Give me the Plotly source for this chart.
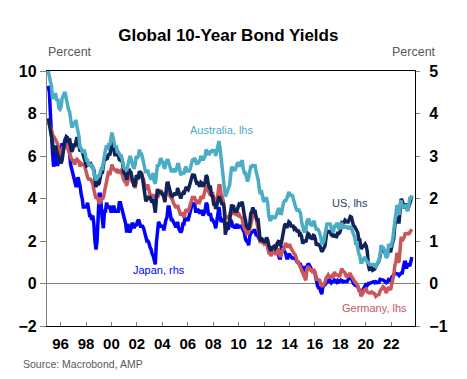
import pandas as pd
import plotly.graph_objects as go

# Monthly 10-year government bond yields (%), Jan 1995 - Aug 2023
us = [
    7.78, 7.47, 7.20, 7.06, 6.63, 6.17, 6.28, 6.49, 6.20, 6.04, 5.93, 5.71,
    5.65, 5.81, 6.27, 6.51, 6.74, 6.91, 6.87, 6.64, 6.83, 6.53, 6.20, 6.30,
    6.58, 6.42, 6.69, 6.89, 6.71, 6.49, 6.22, 6.30, 6.21, 6.03, 5.88, 5.81,
    5.54, 5.57, 5.65, 5.64, 5.65, 5.50, 5.46, 5.34, 4.81, 4.53, 4.83, 4.65,
    4.72, 5.00, 5.23, 5.18, 5.54, 5.90, 5.79, 5.94, 5.92, 6.11, 6.03, 6.28,
    6.66, 6.52, 6.26, 5.99, 6.44, 6.10, 6.05, 5.83, 5.80, 5.74, 5.72, 5.24,
    5.16, 5.10, 4.89, 5.14, 5.39, 5.28, 5.24, 4.97, 4.73, 4.57, 4.65, 5.09,
    5.04, 4.91, 5.28, 5.21, 5.16, 4.93, 4.65, 4.26, 3.87, 3.94, 4.05, 4.03,
    4.05, 3.90, 3.81, 3.96, 3.57, 3.33, 3.98, 4.45, 4.27, 4.29, 4.30, 4.27,
    4.15, 4.08, 3.83, 4.35, 4.72, 4.73, 4.50, 4.28, 4.13, 4.10, 4.19, 4.23,
    4.22, 4.17, 4.50, 4.34, 4.14, 4.00, 4.18, 4.26, 4.20, 4.46, 4.54, 4.47,
    4.42, 4.57, 4.72, 4.99, 5.11, 5.11, 5.09, 4.88, 4.72, 4.73, 4.60, 4.56,
    4.76, 4.72, 4.56, 4.69, 4.75, 5.10, 5.00, 4.67, 4.52, 4.53, 4.15, 4.10,
    3.74, 3.74, 3.51, 3.68, 3.88, 4.10, 4.01, 3.89, 3.69, 3.81, 3.53, 2.30,
    2.52, 2.87, 2.82, 2.93, 3.29, 3.72, 3.56, 3.59, 3.40, 3.39, 3.40, 3.59,
    3.73, 3.69, 3.73, 3.85, 3.42, 3.20, 3.01, 2.70, 2.65, 2.54, 2.76, 3.29,
    3.39, 3.58, 3.41, 3.46, 3.17, 3.00, 3.00, 2.30, 1.98, 2.15, 2.01, 1.98,
    1.97, 1.97, 2.17, 2.05, 1.80, 1.62, 1.53, 1.68, 1.72, 1.75, 1.65, 1.72,
    1.91, 1.98, 1.96, 1.76, 1.93, 2.30, 2.58, 2.74, 2.81, 2.62, 2.72, 2.90,
    2.86, 2.71, 2.72, 2.71, 2.56, 2.60, 2.54, 2.42, 2.53, 2.30, 2.33, 2.21,
    1.88, 1.98, 2.04, 1.94, 2.20, 2.36, 2.32, 2.17, 2.17, 2.07, 2.26, 2.24,
    2.09, 1.78, 1.89, 1.81, 1.81, 1.64, 1.50, 1.56, 1.63, 1.76, 2.14, 2.49,
    2.43, 2.42, 2.48, 2.30, 2.30, 2.19, 2.32, 2.21, 2.20, 2.36, 2.35, 2.40,
    2.58, 2.86, 2.84, 2.87, 2.98, 2.91, 2.89, 2.89, 3.00, 3.15, 3.12, 2.83,
    2.71, 2.68, 2.57, 2.53, 2.40, 2.07, 2.06, 1.63, 1.70, 1.71, 1.81, 1.86,
    1.76, 1.50, 0.87, 0.66, 0.67, 0.73, 0.62, 0.65, 0.68, 0.79, 0.87, 0.93,
    1.08, 1.26, 1.61, 1.64, 1.62, 1.52, 1.32, 1.28, 1.37, 1.58, 1.56, 1.47,
    1.76, 1.93, 2.13, 2.75, 2.90, 3.14, 2.90, 2.90, 3.52, 3.98, 3.89, 3.62,
    3.53, 3.75, 3.66, 3.46, 3.57, 3.75, 3.90, 4.10,
]

germany = [
    7.60, 7.50, 7.35, 7.25, 7.00, 6.95, 6.85, 6.75, 6.65, 6.55, 6.30, 6.05,
    6.00, 6.25, 6.45, 6.40, 6.50, 6.60, 6.40, 6.25, 6.20, 6.05, 5.85, 5.80,
    5.70, 5.60, 5.80, 5.85, 5.80, 5.70, 5.50, 5.65, 5.60, 5.60, 5.60, 5.40,
    5.10, 5.00, 4.90, 4.90, 4.90, 4.80, 4.70, 4.40, 4.10, 4.00, 4.05, 3.95,
    3.75, 3.85, 4.05, 3.95, 4.05, 4.35, 4.65, 4.90, 5.05, 5.30, 5.10, 5.30,
    5.60, 5.45, 5.35, 5.30, 5.40, 5.20, 5.30, 5.25, 5.30, 5.20, 5.10, 4.90,
    4.80, 4.80, 4.60, 4.80, 5.05, 5.00, 5.00, 4.80, 4.80, 4.60, 4.50, 4.80,
    5.00, 4.95, 5.25, 5.20, 5.20, 5.00, 4.90, 4.60, 4.40, 4.60, 4.60, 4.40,
    4.20, 3.95, 4.10, 4.20, 3.80, 3.65, 4.10, 4.20, 4.15, 4.25, 4.40, 4.30,
    4.20, 4.10, 3.95, 4.20, 4.30, 4.30, 4.25, 4.10, 4.05, 3.95, 3.80, 3.70,
    3.60, 3.60, 3.70, 3.50, 3.35, 3.20, 3.30, 3.30, 3.10, 3.30, 3.50, 3.40,
    3.40, 3.55, 3.70, 4.00, 4.05, 4.05, 4.05, 3.90, 3.80, 3.85, 3.75, 3.85,
    4.10, 4.05, 4.00, 4.20, 4.35, 4.60, 4.50, 4.30, 4.25, 4.30, 4.10, 4.30,
    4.00, 3.95, 3.80, 4.00, 4.20, 4.60, 4.60, 4.20, 4.10, 3.90, 3.60, 3.10,
    3.10, 3.20, 3.05, 3.15, 3.40, 3.50, 3.30, 3.30, 3.30, 3.25, 3.25, 3.20,
    3.25, 3.15, 3.10, 3.05, 2.75, 2.60, 2.65, 2.35, 2.35, 2.40, 2.55, 2.90,
    3.00, 3.20, 3.20, 3.35, 3.10, 2.95, 2.75, 2.30, 1.90, 2.05, 1.95, 2.00,
    1.85, 1.90, 1.90, 1.70, 1.45, 1.45, 1.30, 1.40, 1.55, 1.50, 1.40, 1.35,
    1.60, 1.60, 1.40, 1.25, 1.40, 1.60, 1.60, 1.80, 1.90, 1.80, 1.70, 1.80,
    1.80, 1.65, 1.60, 1.50, 1.40, 1.35, 1.20, 1.00, 1.00, 0.88, 0.78, 0.60,
    0.45, 0.35, 0.25, 0.15, 0.60, 0.80, 0.75, 0.65, 0.65, 0.55, 0.55, 0.60,
    0.50, 0.20, 0.20, 0.15, 0.15, 0.00, -0.10, -0.10, -0.05, 0.05, 0.25, 0.30,
    0.40, 0.30, 0.40, 0.25, 0.35, 0.30, 0.55, 0.40, 0.40, 0.40, 0.35, 0.35,
    0.55, 0.70, 0.55, 0.55, 0.50, 0.35, 0.35, 0.35, 0.45, 0.45, 0.35, 0.25,
    0.20, 0.10, 0.05, 0.00, -0.10, -0.30, -0.30, -0.60, -0.55, -0.45, -0.30, -0.25,
    -0.25, -0.40, -0.45, -0.45, -0.45, -0.40, -0.45, -0.45, -0.50, -0.60, -0.55, -0.55,
    -0.52, -0.35, -0.30, -0.25, -0.15, -0.20, -0.35, -0.45, -0.30, -0.15, -0.25, -0.30,
    -0.05, 0.15, 0.40, 0.85, 1.00, 1.45, 1.00, 1.05, 1.80, 2.20, 2.00, 2.10,
    2.20, 2.40, 2.30, 2.40, 2.30, 2.40, 2.45, 2.55,
]

australia = [
    10.00, 9.60, 9.50, 9.30, 8.70, 8.75, 8.90, 8.90, 8.60, 8.70, 8.25, 8.20,
    8.30, 8.70, 8.80, 8.95, 8.95, 8.70, 8.35, 8.20, 8.10, 7.65, 7.40, 7.40,
    7.60, 7.50, 7.70, 7.40, 7.20, 6.90, 6.40, 6.35, 6.20, 6.20, 6.30, 6.05,
    5.80, 5.80, 5.60, 5.60, 5.60, 5.50, 5.50, 5.20, 4.95, 4.85, 5.10, 5.00,
    5.05, 5.30, 5.40, 5.40, 5.70, 6.20, 6.30, 6.50, 6.30, 6.60, 6.50, 6.80,
    7.10, 6.90, 6.60, 6.40, 6.50, 6.20, 6.20, 6.10, 6.00, 6.00, 5.70, 5.50,
    5.40, 5.40, 5.30, 5.60, 5.90, 6.00, 5.90, 5.60, 5.50, 5.40, 5.60, 6.00,
    5.90, 6.00, 6.30, 6.10, 6.10, 5.90, 5.70, 5.50, 5.20, 5.30, 5.30, 5.10,
    4.95, 4.90, 5.00, 5.20, 4.80, 4.70, 5.10, 5.60, 5.50, 5.80, 5.90, 5.80,
    5.70, 5.50, 5.40, 5.70, 5.80, 5.80, 5.60, 5.40, 5.30, 5.30, 5.40, 5.30,
    5.30, 5.40, 5.60, 5.60, 5.40, 5.10, 5.20, 5.20, 5.20, 5.40, 5.50, 5.30,
    5.30, 5.30, 5.40, 5.70, 5.80, 5.80, 5.90, 5.80, 5.60, 5.70, 5.70, 5.80,
    6.00, 5.90, 5.80, 5.90, 6.00, 6.30, 6.20, 6.10, 6.10, 6.20, 6.20, 6.30,
    6.20, 6.30, 6.00, 6.20, 6.50, 6.70, 6.40, 5.90, 5.70, 5.30, 4.80, 4.10,
    4.20, 4.40, 4.50, 4.60, 5.00, 5.50, 5.40, 5.40, 5.30, 5.50, 5.60, 5.70,
    5.60, 5.50, 5.70, 5.80, 5.40, 5.20, 5.20, 4.90, 4.80, 5.00, 5.30, 5.50,
    5.50, 5.60, 5.50, 5.60, 5.30, 5.10, 4.90, 4.50, 4.20, 4.40, 4.10, 3.90,
    3.90, 4.00, 4.00, 3.80, 3.20, 3.00, 3.00, 3.20, 3.10, 3.10, 3.10, 3.20,
    3.40, 3.50, 3.50, 3.30, 3.30, 3.70, 3.80, 3.90, 3.90, 4.00, 4.20, 4.30,
    4.20, 4.10, 4.20, 4.00, 3.80, 3.60, 3.50, 3.40, 3.50, 3.40, 3.30, 2.90,
    2.60, 2.50, 2.40, 2.50, 2.90, 3.00, 3.00, 2.80, 2.80, 2.70, 2.90, 2.90,
    2.70, 2.50, 2.60, 2.50, 2.40, 2.20, 1.90, 1.90, 2.00, 2.30, 2.60, 2.80,
    2.80, 2.80, 2.80, 2.60, 2.50, 2.40, 2.70, 2.70, 2.80, 2.80, 2.60, 2.60,
    2.80, 2.80, 2.60, 2.70, 2.70, 2.60, 2.70, 2.60, 2.60, 2.70, 2.60, 2.40,
    2.30, 2.20, 1.90, 1.90, 1.60, 1.40, 1.30, 1.00, 1.00, 1.10, 1.20, 1.20,
    1.10, 1.00, 1.00, 0.90, 0.90, 0.90, 0.90, 0.90, 0.85, 0.80, 0.90, 1.00,
    1.10, 1.30, 1.80, 1.70, 1.70, 1.60, 1.30, 1.20, 1.30, 1.80, 1.80, 1.70,
    1.90, 2.10, 2.50, 3.00, 3.30, 3.70, 3.30, 3.30, 3.80, 3.90, 3.60, 3.60,
    3.60, 3.70, 3.50, 3.40, 3.60, 4.00, 4.00, 4.15,
]

japan = [
    4.65, 4.50, 4.00, 3.40, 3.10, 2.75, 2.90, 3.20, 2.80, 2.80, 2.90, 3.00,
    3.10, 3.30, 3.20, 3.30, 3.40, 3.40, 3.40, 3.20, 3.10, 2.80, 2.65, 2.60,
    2.50, 2.40, 2.30, 2.30, 2.50, 2.40, 2.30, 2.10, 2.00, 1.80, 1.80, 1.80,
    1.80, 1.90, 1.70, 1.60, 1.60, 1.50, 1.60, 1.40, 1.00, 0.80, 1.00, 1.60,
    2.10, 2.10, 1.70, 1.50, 1.30, 1.70, 1.70, 1.90, 1.80, 1.80, 1.80, 1.70,
    1.70, 1.80, 1.80, 1.70, 1.70, 1.70, 1.70, 1.90, 1.90, 1.80, 1.70, 1.60,
    1.50, 1.40, 1.20, 1.40, 1.30, 1.20, 1.30, 1.40, 1.40, 1.30, 1.40, 1.35,
    1.45, 1.50, 1.45, 1.35, 1.35, 1.35, 1.30, 1.20, 1.15, 1.00, 1.00, 0.95,
    0.85, 0.80, 0.70, 0.65, 0.55, 0.45, 0.95, 1.20, 1.45, 1.40, 1.35, 1.35,
    1.35, 1.25, 1.40, 1.50, 1.55, 1.80, 1.80, 1.60, 1.50, 1.50, 1.45, 1.40,
    1.35, 1.35, 1.45, 1.30, 1.25, 1.20, 1.25, 1.40, 1.40, 1.55, 1.50, 1.50,
    1.50, 1.60, 1.70, 1.85, 1.90, 1.85, 1.90, 1.70, 1.70, 1.75, 1.70, 1.65,
    1.70, 1.70, 1.60, 1.65, 1.70, 1.90, 1.85, 1.65, 1.60, 1.65, 1.50, 1.50,
    1.45, 1.40, 1.30, 1.45, 1.70, 1.80, 1.60, 1.45, 1.50, 1.50, 1.45, 1.30,
    1.25, 1.30, 1.30, 1.40, 1.50, 1.45, 1.35, 1.35, 1.30, 1.35, 1.40, 1.30,
    1.35, 1.35, 1.35, 1.30, 1.25, 1.20, 1.05, 1.00, 1.00, 0.90, 1.10, 1.20,
    1.20, 1.25, 1.25, 1.25, 1.15, 1.15, 1.10, 1.05, 1.00, 1.00, 1.00, 1.00,
    0.95, 0.95, 1.00, 0.95, 0.85, 0.85, 0.75, 0.80, 0.80, 0.80, 0.75, 0.75,
    0.75, 0.70, 0.60, 0.60, 0.85, 0.85, 0.80, 0.75, 0.70, 0.60, 0.60, 0.70,
    0.65, 0.60, 0.60, 0.60, 0.60, 0.58, 0.55, 0.50, 0.50, 0.45, 0.45, 0.35,
    0.25, 0.35, 0.40, 0.35, 0.40, 0.45, 0.45, 0.40, 0.35, 0.30, 0.30, 0.28,
    0.20, 0.00, -0.05, -0.10, -0.10, -0.18, -0.25, -0.08, -0.05, -0.05, 0.00, 0.05,
    0.05, 0.10, 0.07, 0.02, 0.05, 0.05, 0.08, 0.05, 0.03, 0.07, 0.04, 0.05,
    0.08, 0.07, 0.04, 0.05, 0.05, 0.03, 0.05, 0.10, 0.12, 0.15, 0.12, 0.05,
    0.00, -0.03, -0.05, -0.05, -0.07, -0.13, -0.15, -0.25, -0.20, -0.15, -0.08, -0.02,
    0.00, -0.04, 0.00, 0.00, 0.00, 0.02, 0.03, 0.04, 0.02, 0.04, 0.02, 0.02,
    0.03, 0.10, 0.10, 0.08, 0.08, 0.06, 0.03, 0.02, 0.04, 0.09, 0.07, 0.06,
    0.15, 0.20, 0.20, 0.24, 0.24, 0.24, 0.22, 0.19, 0.24, 0.25, 0.25, 0.35,
    0.50, 0.50, 0.35, 0.47, 0.43, 0.41, 0.50, 0.62,
]

tick_years = list(range(1996, 2023, 2))
tick_labels = ["96", "98", "00", "02", "04", "06", "08", "10", "12", "14", "16", "18", "20", "22"]

dates = pd.date_range("1995-01-01", periods=len(us), freq="MS") + pd.Timedelta(days=14)
tick_vals = [f"{y}-01-01" for y in tick_years]

FONT = "Liberation Sans, Arial, Helvetica, sans-serif"
C_AUS = "#4BACC6"
C_US = "#10225A"
C_GER = "#C9575A"
C_JPN = "#0000FF"

# plot-area geometry in pixels (used to place the out-of-plot captions)
W, H = 467, 379
L, R, T, B = 47, 52, 71, 53
PW, PH = W - L - R, H - T - B


def px(x):
    return (x - L) / PW


def py(y):
    return (H - B - y) / PH


fig = go.Figure()
# Japan on the primary axis (right side) so it is drawn underneath
fig.add_trace(go.Scatter(x=dates, y=japan, mode="lines", name="Japan, rhs",
                         line=dict(color=C_JPN, width=3.5), yaxis="y"))
fig.add_trace(go.Scatter(x=dates, y=germany, mode="lines", name="Germany, lhs",
                         line=dict(color=C_GER, width=3.5), yaxis="y2"))
fig.add_trace(go.Scatter(x=dates, y=us, mode="lines", name="US, lhs",
                         line=dict(color=C_US, width=3.5), yaxis="y2"))
fig.add_trace(go.Scatter(x=dates, y=australia, mode="lines", name="Australia, lhs",
                         line=dict(color=C_AUS, width=3.5), yaxis="y2"))

fig.add_shape(type="line", xref="paper", x0=0, x1=1, yref="y2", y0=0, y1=0,
              line=dict(color="#808080", width=1), layer="below")

fig.update_layout(
    width=W, height=H,
    margin=dict(l=L, r=R, t=T, b=B, autoexpand=False),
    paper_bgcolor="white", plot_bgcolor="white",
    showlegend=False,
    font=dict(family=FONT, color="black"),
    title=dict(text="<b>Global 10-Year Bond Yields</b>", x=0.489, xref="container",
               xanchor="center", y=1 - 35 / H, yref="container", yanchor="middle",
               font=dict(size=17, color="black", family=FONT)),
    xaxis=dict(type="date", range=["1994-12-08", "2023-11-15"], automargin=False,
               tickmode="array", tickvals=tick_vals, ticktext=tick_labels,
               ticks="inside", ticklen=4, tickcolor="#808080", tickwidth=1,
               ticklabelstandoff=4,
               showline=True, linecolor="black", linewidth=1.3, mirror=True,
               showgrid=False, zeroline=False,
               tickfont=dict(size=15, family=FONT, color="black", weight="bold")),
    yaxis=dict(range=[-1, 5], dtick=1, side="right", showgrid=False, zeroline=False,
               automargin=False,
               showline=True, linecolor="black", linewidth=1.3,
               ticks="outside", ticklen=4, tickcolor="#808080",
               ticklabelstandoff=6,
               tickfont=dict(size=16, family=FONT, color="black", weight="bold")),
    yaxis2=dict(range=[-2, 10], dtick=2, side="left", overlaying="y",
                showgrid=False, zeroline=False, automargin=False,
                showline=True, linecolor="#808080", linewidth=1.3,
                ticks="outside", ticklen=6, tickcolor="#808080",
                tickfont=dict(size=16, family=FONT, color="black", weight="bold")),
)

ann_font = dict(family=FONT, size=11)
fig.add_annotation(x="2008-09-01", y=7.23, xref="x", yref="y2", text="Australia, lhs",
                   showarrow=False, font=dict(color=C_AUS, **ann_font))
fig.add_annotation(x="2018-10-15", y=3.79, xref="x", yref="y2", text="US, lhs",
                   showarrow=False, font=dict(color="#2E3D6B", **ann_font))
fig.add_annotation(x="2003-10-01", y=0.32, xref="x", yref="y", text="Japan, rhs",
                   showarrow=False, font=dict(color=C_JPN, **ann_font))
fig.add_annotation(x="2020-09-15", y=-1.15, xref="x", yref="y2", text="Germany, lhs",
                   showarrow=False, font=dict(color=C_GER, **ann_font))

fig.add_annotation(x=px(46), y=py(52), xref="paper", yref="paper",
                   xanchor="left", yanchor="middle", text="Percent", showarrow=False,
                   font=dict(family=FONT, size=12.5, color="#595959"))
fig.add_annotation(x=px(438), y=py(52), xref="paper", yref="paper",
                   xanchor="right", yanchor="middle", text="Percent", showarrow=False,
                   font=dict(family=FONT, size=12.5, color="#595959"))
fig.add_annotation(x=px(21), y=py(364), xref="paper", yref="paper",
                   xanchor="left", yanchor="middle", text="Source: Macrobond, AMP",
                   showarrow=False, font=dict(family=FONT, size=10.5, color="#595959"))

# remove the browser's default page margin so the figure sits at the window origin
fig.write_html("out.html",
               config={"displayModeBar": False},
               post_script="document.body.style.margin='0';document.body.style.padding='0';")
